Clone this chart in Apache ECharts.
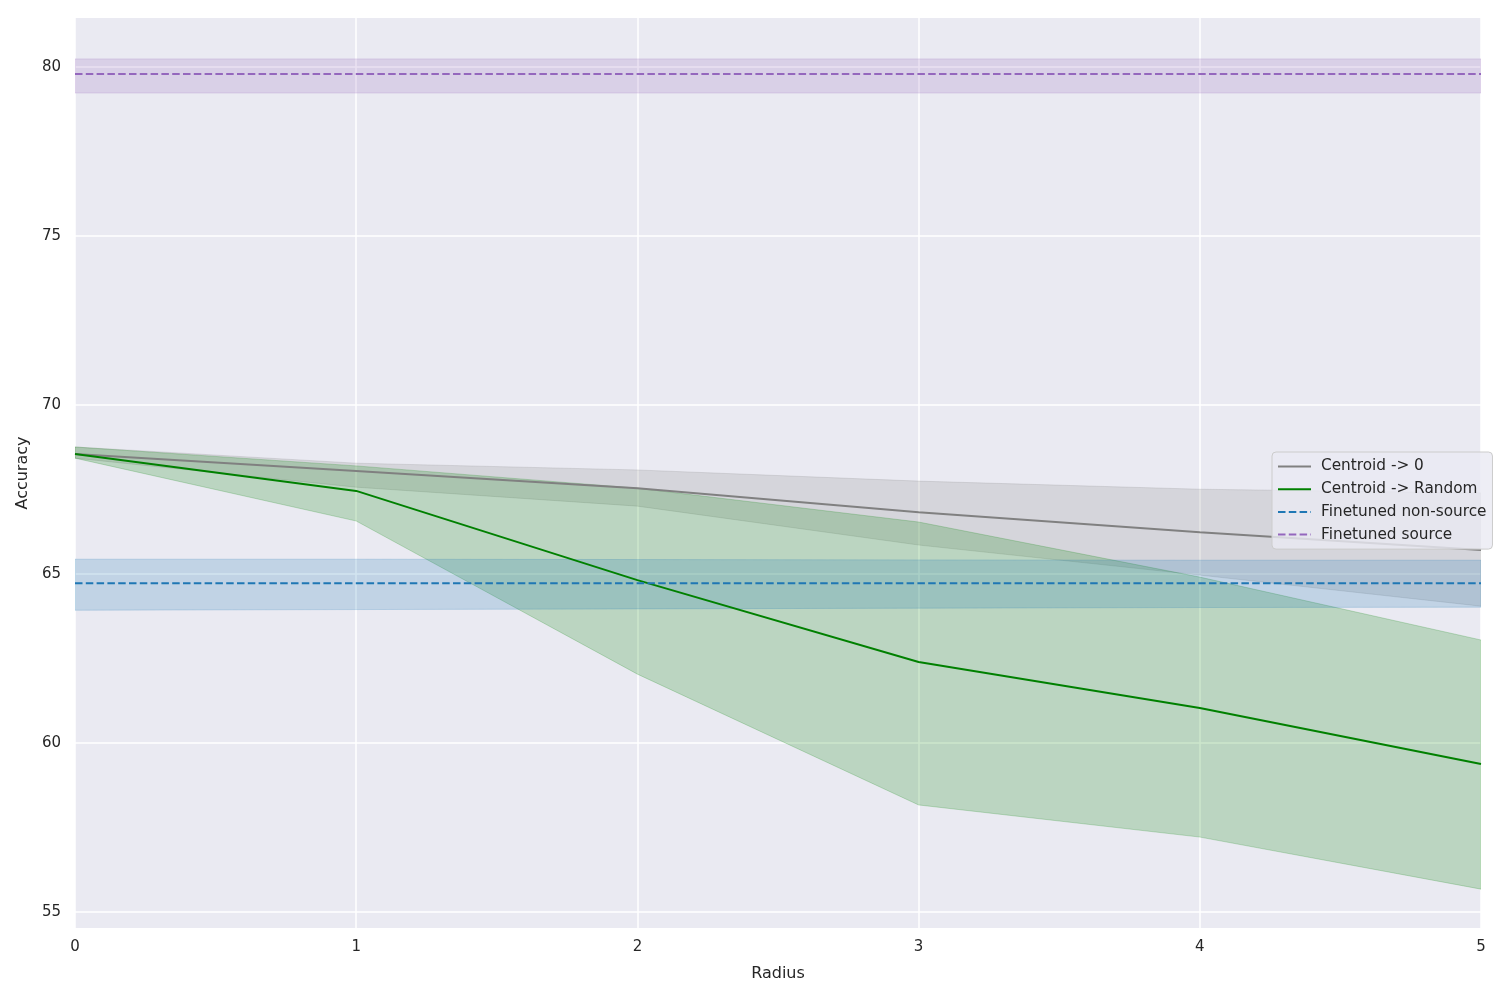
<!DOCTYPE html>
<html><head><meta charset="utf-8">
<script src="https://cdn.jsdelivr.net/npm/echarts@6/dist/echarts.min.js"></script>
<style>html,body{margin:0;padding:0;background:#fff}#c{width:1500px;height:1000px}</style>
</head><body><div id="c"></div>
<script>
const radius = [0, 1, 2, 3, 4, 5];
const yTicks = [55, 60, 65, 70, 75, 80];
const xTicks = [0, 1, 2, 3, 4, 5];

const zeroMean  = [68.55, 68.05, 67.54, 66.83, 66.24, 65.71];
const zeroUpper = [68.76, 68.28, 68.08, 67.75, 67.51, 67.40];
const zeroLower = [68.43, 67.57, 67.01, 65.86, 64.97, 64.05];

const randMean  = [68.55, 67.46, 64.82, 62.40, 61.04, 59.38];
const randUpper = [68.76, 68.20, 67.54, 66.54, 64.91, 63.05];
const randLower = [68.43, 66.57, 62.04, 58.17, 57.22, 55.68];

const nonSrcMean  = [64.73, 64.73, 64.73, 64.73, 64.73, 64.73];
const nonSrcUpper = [65.44, 65.44, 65.43, 65.42, 65.41, 65.41];
const nonSrcLower = [63.93, 63.95, 63.97, 63.99, 64.01, 64.02];

const srcMean  = [79.79, 79.79, 79.79, 79.79, 79.79, 79.79];
const srcUpper = [80.24, 80.24, 80.24, 80.24, 80.24, 80.24];
const srcLower = [79.23, 79.23, 79.23, 79.23, 79.23, 79.23];

function band(name, upper, lower, rgb) {
  return {
    type: 'custom', name: name + ' band', z: 1, silent: true,
    data: radius.map((x, i) => [x, upper[i], lower[i]]),
    encode: { x: 0, y: [1, 2] },
    renderItem: function (params, api) {
      if (params.dataIndex !== 0) return null;
      const pts = [];
      for (let i = 0; i < radius.length; i++) pts.push(api.coord([radius[i], upper[i]]));
      for (let i = radius.length - 1; i >= 0; i--) pts.push(api.coord([radius[i], lower[i]]));
      return {
        type: 'polygon', shape: { points: pts },
        style: { fill: 'rgba(' + rgb + ',0.2)', stroke: 'rgba(' + rgb + ',0.2)', lineWidth: 1 }
      };
    },
    clip: true
  };
}
function line(name, vals, color, dashed) {
  return {
    type: 'line', name: name, z: 3, symbol: 'none', showSymbol: false,
    data: radius.map((x, i) => [x, vals[i]]),
    lineStyle: { color: color, width: 2, type: dashed ? [7.5, 3.3] : 'solid' },
    itemStyle: { color: color },
    emphasis: { disabled: true }
  };
}

const chart = echarts.init(document.getElementById('c'), null, { renderer: 'canvas' });
chart.setOption({
  animation: false,
  backgroundColor: '#ffffff',
  textStyle: { fontFamily: 'DejaVu Sans' },
  grid: { left: 75, right: 19, top: 18, bottom: 72, show: true, backgroundColor: '#eaeaf2', borderWidth: 0 },
  xAxis: {
    type: 'value', min: 0, max: 5, interval: 1,
    name: 'Radius', nameLocation: 'middle', nameGap: 38,
    nameTextStyle: { fontSize: 16, color: '#262626', fontFamily: 'DejaVu Sans' },
    axisLine: { show: false }, axisTick: { show: false },
    axisLabel: { fontSize: 15, color: '#262626', margin: 12, customValues: xTicks },
    splitLine: { show: true, lineStyle: { color: '#ffffff', width: 1.5 } }
  },
  yAxis: {
    type: 'value', min: 54.53, max: 81.45,
    name: 'Accuracy', nameLocation: 'middle', nameGap: 37, nameRotate: 90,
    nameTextStyle: { fontSize: 16, color: '#262626', fontFamily: 'DejaVu Sans' },
    axisLine: { show: false },
    axisTick: { show: false, customValues: yTicks },
    axisLabel: { fontSize: 15, color: '#262626', margin: 14, customValues: yTicks },
    splitLine: { show: true, lineStyle: { color: '#ffffff', width: 1.5 } }
  },
  legend: {
    orient: 'vertical', left: 1272, top: 452,
    padding: [7, 6, 7, 5], itemGap: 7.7, itemWidth: 33, itemHeight: 14.6,
    backgroundColor: 'rgba(234,234,242,0.8)', borderColor: '#cccccc', borderWidth: 1, borderRadius: 4,
    itemStyle: { opacity: 0, borderWidth: 0 },
    textStyle: { fontSize: 15.3, color: '#262626', fontFamily: 'DejaVu Sans', padding: [0, 0, 0, 5] },
    data: ['Centroid -> 0', 'Centroid -> Random', 'Finetuned non-source', 'Finetuned source']
  },
  series: [
    band('Centroid -> 0', zeroUpper, zeroLower, '128,128,128'),
    band('Centroid -> Random', randUpper, randLower, '0,128,0'),
    band('Finetuned non-source', nonSrcUpper, nonSrcLower, '31,119,180'),
    band('Finetuned source', srcUpper, srcLower, '148,103,189'),
    line('Centroid -> 0', zeroMean, '#808080', false),
    line('Centroid -> Random', randMean, '#008000', false),
    line('Finetuned non-source', nonSrcMean, '#1f77b4', true),
    line('Finetuned source', srcMean, '#9467bd', true)
  ]
});
</script></body></html>
